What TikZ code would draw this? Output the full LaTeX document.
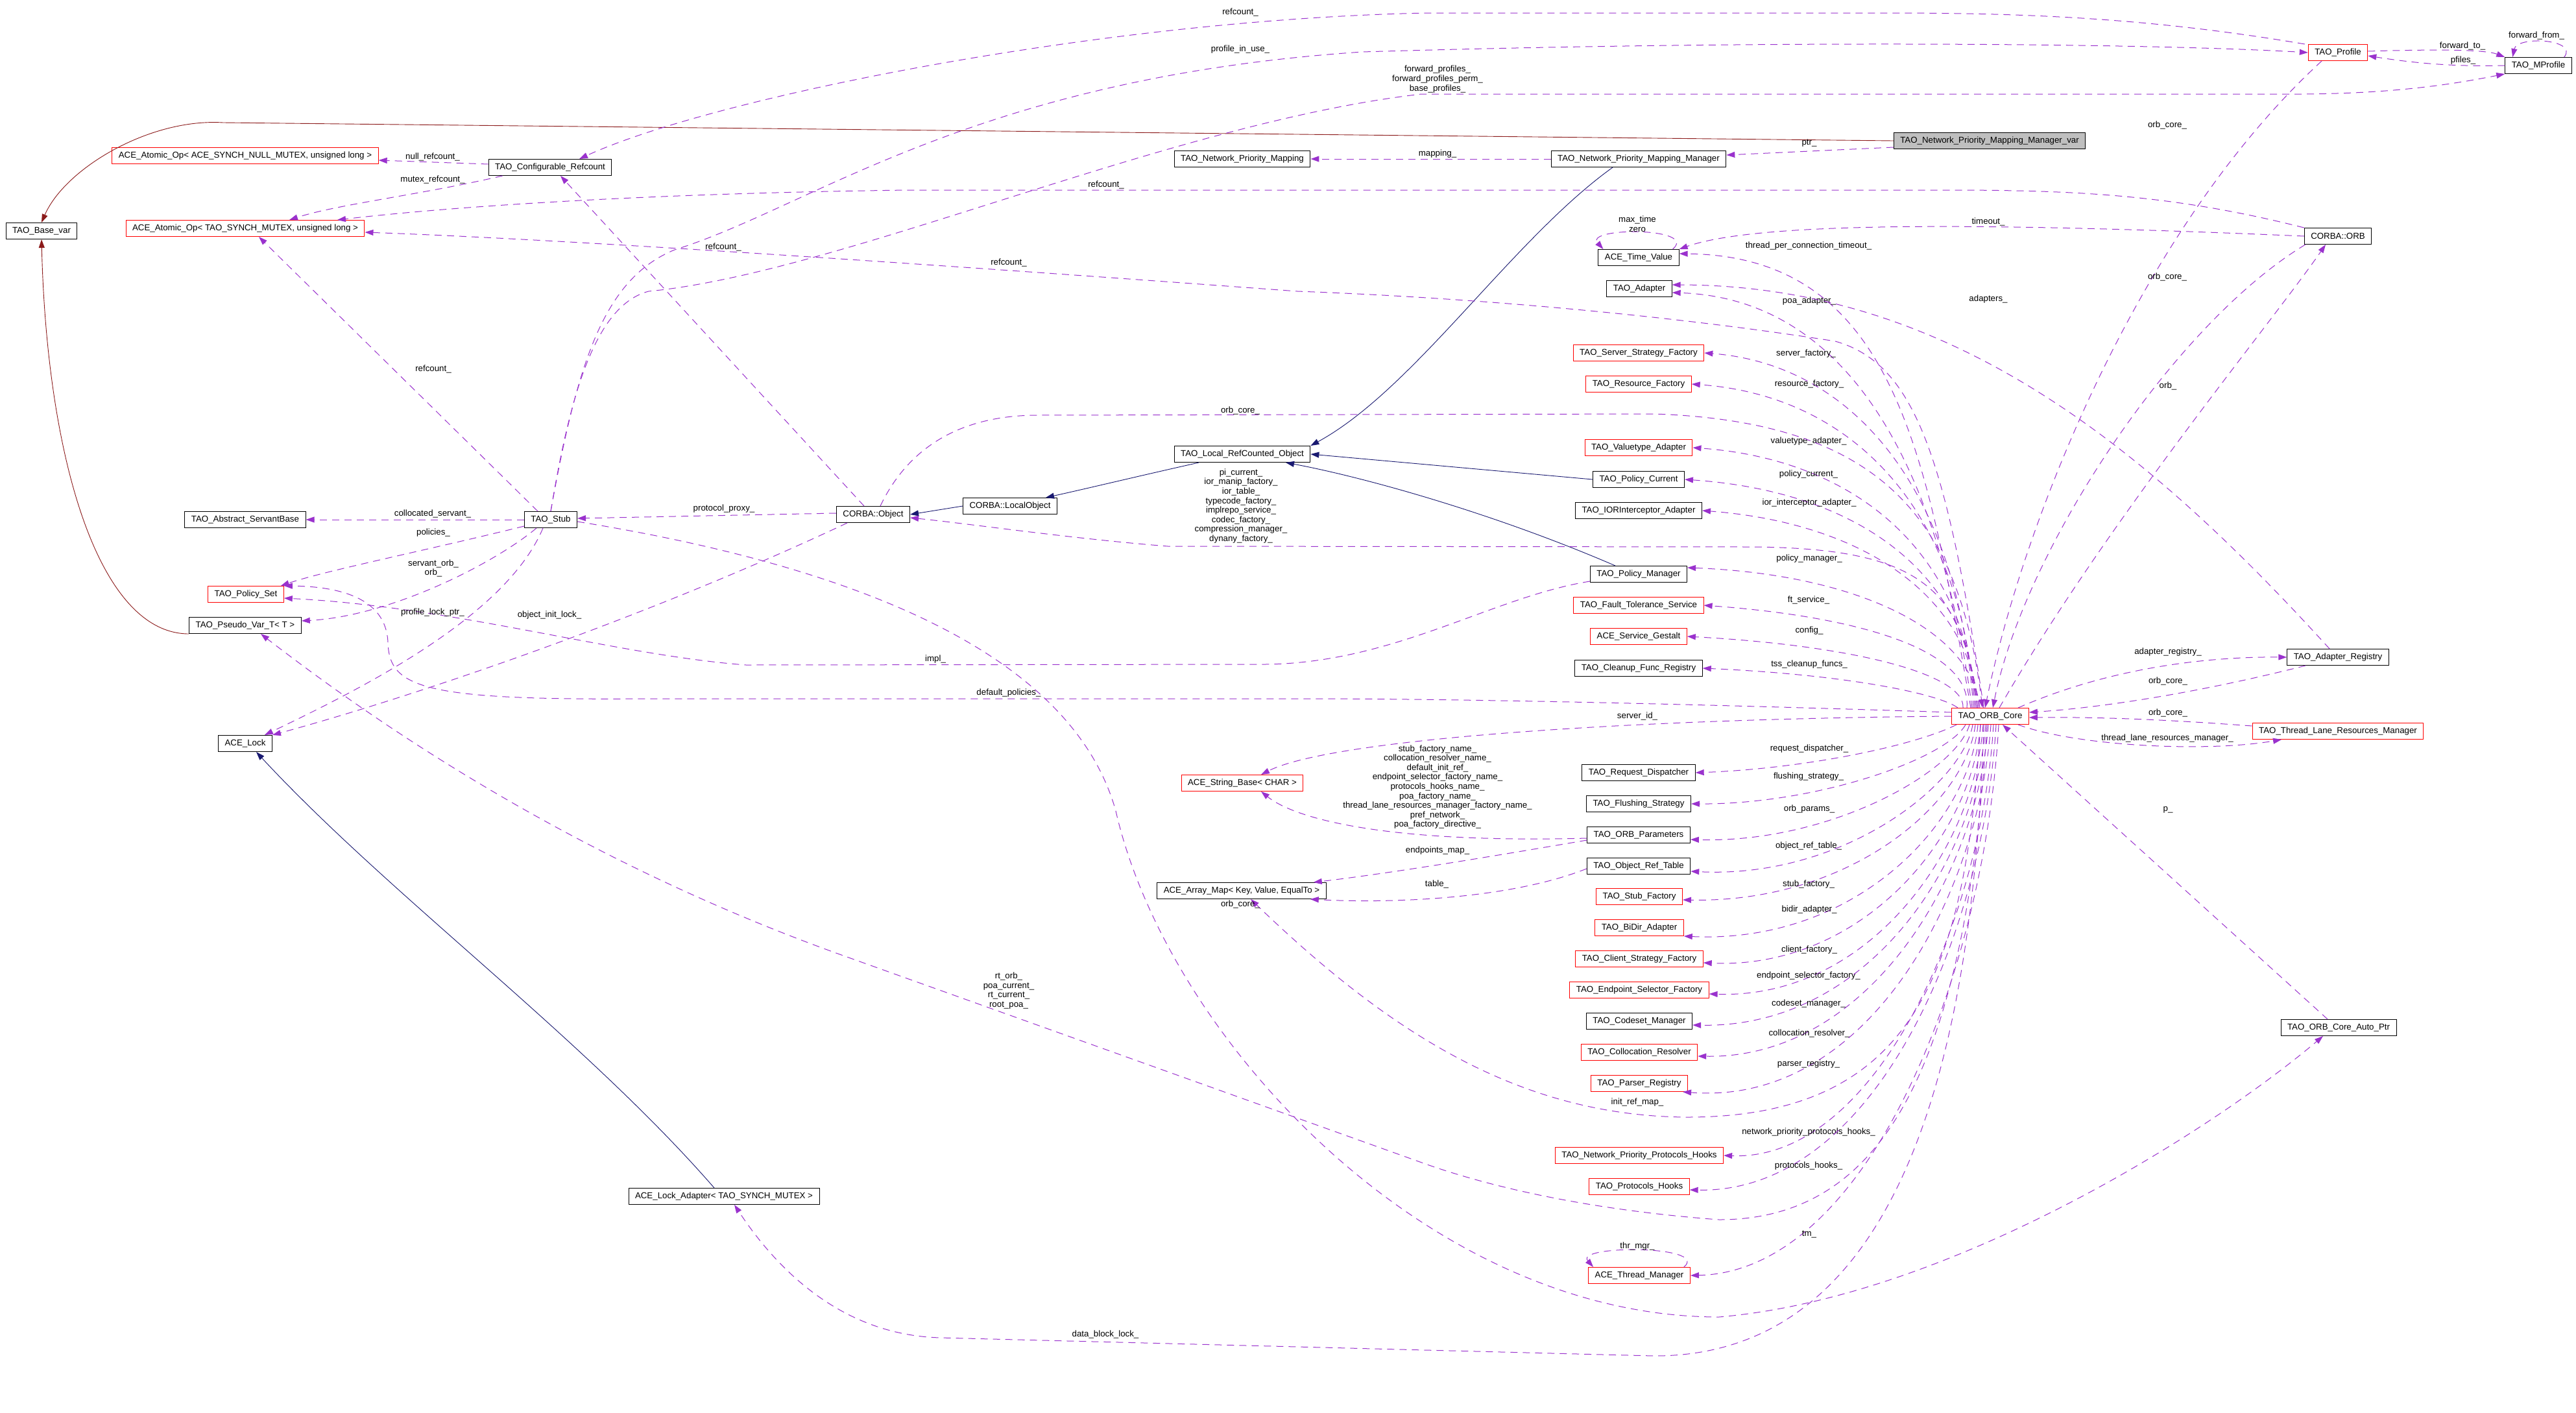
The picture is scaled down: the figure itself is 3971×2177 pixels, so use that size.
\documentclass[tikz,border=0pt]{standalone}
\usepackage{fontspec}
\setmainfont{Liberation Sans}
\usetikzlibrary{arrows.meta}
\definecolor{usecol}{HTML}{9A32CD}
\definecolor{pubcol}{HTML}{191970}
\definecolor{privcol}{HTML}{8B1A1A}
\begin{document}
\begin{tikzpicture}[x=1pt, y=-1pt,
    cls/.style={draw=black, line width=1pt, inner xsep=10pt, inner ysep=0pt, minimum height=25pt, font=\fontsize{13.3}{15}\selectfont},
    redcls/.style={cls, draw=red},
    lbl/.style={inner sep=0pt, align=center, font=\fontsize{13.3}{14.6}\selectfont},
    usedge/.style={draw=usecol, line width=1pt, dash pattern=on 11pt off 8pt, -{Triangle[length=13pt,width=9pt]}},
    pubedge/.style={draw=pubcol, line width=0.9pt, -{Triangle[length=13pt,width=9pt]}},
    privedge/.style={draw=privcol, line width=0.9pt, -{Triangle[length=13pt,width=9pt]}}]
    \useasboundingbox (0,0) rectangle (3971,2177);

    \node[cls] (basevar) at (64,356) {TAO\_Base\_var};
    \node[redcls] (aonull) at (378,240) {ACE\_Atomic\_Op< ACE\_SYNCH\_NULL\_MUTEX, unsigned long >};
    \node[redcls] (aomtx) at (378,352) {ACE\_Atomic\_Op< TAO\_SYNCH\_MUTEX, unsigned long >};
    \node[cls] (asb) at (378,801) {TAO\_Abstract\_ServantBase};
    \node[redcls] (pset) at (379,916) {TAO\_Policy\_Set};
    \node[cls] (pvar) at (378,964) {TAO\_Pseudo\_Var\_T< T >};
    \node[cls] (lock) at (378,1146) {ACE\_Lock};
    \node[cls] (cfgref) at (848,258) {TAO\_Configurable\_Refcount};
    \node[cls] (stub) at (849,801) {TAO\_Stub};
    \node[cls] (lockad) at (1116,1844) {ACE\_Lock\_Adapter< TAO\_SYNCH\_MUTEX >};
    \node[cls] (obj) at (1346,793) {CORBA::Object};
    \node[cls] (lobj) at (1557,780) {CORBA::LocalObject};
    \node[cls] (npm) at (1915,245) {TAO\_Network\_Priority\_Mapping};
    \node[cls] (lrco) at (1915,700) {TAO\_Local\_RefCounted\_Object};
    \node[redcls] (strbase) at (1915,1207) {ACE\_String\_Base< CHAR >};
    \node[cls] (amap) at (1914,1373) {ACE\_Array\_Map< Key, Value, EqualTo >};

    \node[cls] (npmm) at (2526,245) {TAO\_Network\_Priority\_Mapping\_Manager};
    \node[cls] (tval) at (2526,397) {ACE\_Time\_Value};
    \node[cls] (adapter) at (2527,445) {TAO\_Adapter};
    \node[redcls] (ssf) at (2526,544) {TAO\_Server\_Strategy\_Factory};
    \node[redcls] (rfac) at (2526,592) {TAO\_Resource\_Factory};
    \node[redcls] (vta) at (2526,690) {TAO\_Valuetype\_Adapter};
    \node[cls] (pcur) at (2526,739) {TAO\_Policy\_Current};
    \node[cls] (iora) at (2526,787) {TAO\_IORInterceptor\_Adapter};
    \node[cls] (pman) at (2526,885) {TAO\_Policy\_Manager};
    \node[redcls] (fts) at (2526,933) {TAO\_Fault\_Tolerance\_Service};
    \node[redcls] (gestalt) at (2526,981) {ACE\_Service\_Gestalt};
    \node[cls] (cleanup) at (2526,1030) {TAO\_Cleanup\_Func\_Registry};
    \node[cls] (rdisp) at (2526,1191) {TAO\_Request\_Dispatcher};
    \node[cls] (flush) at (2526,1239) {TAO\_Flushing\_Strategy};
    \node[cls] (oparams) at (2526,1287) {TAO\_ORB\_Parameters};
    \node[cls] (ortable) at (2526,1335) {TAO\_Object\_Ref\_Table};
    \node[redcls] (stubf) at (2527,1382) {TAO\_Stub\_Factory};
    \node[redcls] (bidir) at (2527,1430) {TAO\_BiDir\_Adapter};
    \node[redcls] (csf) at (2527,1478) {TAO\_Client\_Strategy\_Factory};
    \node[redcls] (esf) at (2527,1526) {TAO\_Endpoint\_Selector\_Factory};
    \node[cls] (codeset) at (2527,1574) {TAO\_Codeset\_Manager};
    \node[redcls] (colres) at (2527,1622) {TAO\_Collocation\_Resolver};
    \node[redcls] (parser) at (2527,1670) {TAO\_Parser\_Registry};
    \node[redcls] (npph) at (2527,1781) {TAO\_Network\_Priority\_Protocols\_Hooks};
    \node[redcls] (phooks) at (2527,1829) {TAO\_Protocols\_Hooks};
    \node[redcls] (thrmgr) at (2527,1966) {ACE\_Thread\_Manager};

    \node[cls, fill=gray!50] (var) at (3067,217) {TAO\_Network\_Priority\_Mapping\_Manager\_var};
    \node[redcls] (core) at (3068,1104) {TAO\_ORB\_Core};
    \node[redcls] (profile) at (3604,81) {TAO\_Profile};
    \node[cls] (orb) at (3604,364) {CORBA::ORB};
    \node[cls] (areg) at (3604,1013) {TAO\_Adapter\_Registry};
    \node[redcls] (tlrm) at (3604,1127) {TAO\_Thread\_Lane\_Resources\_Manager};
    \node[cls] (autoptr) at (3605,1584) {TAO\_ORB\_Core\_Auto\_Ptr};
    \node[cls] (mprofile) at (3913,101) {TAO\_MProfile};

    \draw[privedge] (var.west) -- (344,189) .. controls (230,182) and (100,260) .. (basevar.north);
    \draw[privedge] (pvar.south west) .. controls (150,977) and (72,700) .. (basevar.south);
    \draw[pubedge] ([xshift=-40pt]npmm.south) .. controls (2330,370) and (2180,600) .. (lrco.north east);
    \draw[pubedge] (pcur.west) -- (lrco.east);
    \draw[pubedge] ([xshift=-36pt]pman.north) .. controls (2300,790) and (2100,735) .. ([xshift=67pt]lrco.south);
    \draw[pubedge] ([xshift=-67pt]lrco.south) .. controls (1750,735) and (1680,752) .. ([xshift=55pt]lobj.north);
    \draw[pubedge] (lobj.west) -- (obj.east);
    \draw[pubedge] ([xshift=-15pt]lockad.north) .. controls (900,1600) and (600,1380) .. ([xshift=17pt]lock.south);

    \draw[usedge] ([yshift=-10pt]var.west) -- ([yshift=6pt]npmm.east) node[lbl] (l-ptr) at (2789,221) {ptr\_};
    \draw[usedge] (npmm.west) -- (npm.east) node[lbl] (l-mapping) at (2216,237) {mapping\_};
    \draw[usedge] ([yshift=5pt]cfgref.west) -- ([yshift=-7pt]aonull.east) node[lbl] (l-nullrc) at (667,242) {null\_refcount\_};
    \draw[usedge] ([xshift=22pt]cfgref.south west) .. controls (650,300) and (520,315) .. ([xshift=68pt]aomtx.north) node[lbl] (l-mtxrc) at (667,277) {mutex\_refcount\_};
    \draw[usedge] ([xshift=-5pt]profile.north west) .. controls (3300,25) and (3100,20) .. (2900,20) -- (2200,20) .. controls (1700,30) and (1100,150) .. ([xshift=45pt]cfgref.north) node[lbl] (l-rc0) at (1912,19) {refcount\_};
    \draw[usedge] (stub.north) .. controls (890,560) and (930,430) .. (1040,385) .. controls (1250,320) and (1500,120) .. (2100,80) .. controls (2700,62) and (3300,66) .. (profile.west) node[lbl] (l-piu) at (1912,76) {profile\_in\_use\_};
    \draw[usedge] (stub.north) .. controls (880,600) and (920,470) .. (1000,449) .. controls (1300,420) and (1800,190) .. (2191,145) -- (3550,145) .. controls (3700,144) and (3790,128) .. (mprofile.south west) node[lbl] (l-fwd) at (2216,122) {forward\_profiles\_\\forward\_profiles\_perm\_\\base\_profiles\_};
    \draw[usedge] ([xshift=-14pt]obj.north) -- ([xshift=16pt]cfgref.south) node[lbl] (l-rc1) at (1115,381) {refcount\_};
    \draw[usedge] ([xshift=-20pt]stub.north) -- ([xshift=21pt]aomtx.south) node[lbl] (l-rc2) at (668,569) {refcount\_};
    \draw[usedge] (orb.north west) .. controls (3350,300) and (3200,293) .. (3000,293) -- (1400,293) .. controls (1000,298) and (700,318) .. ([xshift=142pt]aomtx.north) node[lbl] (l-rc3) at (1705,285) {refcount\_};
    \draw[usedge] ([xshift=-10pt]core.north) .. controls (3000,700) and (2950,560) .. (2829,526) .. controls (2600,490) and (2300,460) .. (2000,449) .. controls (1500,412) and (900,370) .. ([yshift=-6pt]aomtx.east) node[lbl] (l-rc4) at (1555,405) {refcount\_};

    \draw[usedge] ([xshift=-25pt]profile.south) .. controls (3300,350) and (3120,800) .. ([xshift=-8pt]core.north) node[lbl] (l-pcore) at (3341,193) {orb\_core\_};
    \draw[usedge] ([xshift=2pt]orb.south west) .. controls (3350,500) and (3120,850) .. ([xshift=4pt]core.north) node[lbl] (l-ocore) at (3341,427) {orb\_core\_};
    \draw[usedge] ([xshift=14pt]core.north) .. controls (3250,800) and (3500,500) .. ([xshift=-19pt]orb.south) node[lbl] (l-orb) at (3342,595) {orb\_};
    \draw[usedge] ([yshift=2pt]profile.east) .. controls (3750,76) and (3830,76) .. (mprofile.north west) node[lbl] (l-fto) at (3796,71) {forward\_to\_};
    \draw[usedge] (mprofile.west) .. controls (3780,103) and (3720,97) .. ([yshift=-5pt]profile.east) node[lbl] (l-pfiles) at (3797,93) {pfiles\_};
    \draw[usedge] ([xshift=-12pt]mprofile.north east) .. controls (3975,60) and (3880,55) .. ([xshift=12pt]mprofile.north west) node[lbl] (l-ffrom) at (3910,55) {forward\_from\_};

    \draw[usedge] (orb.west) .. controls (3000,340) and (2700,345) .. (tval.north east) node[lbl] (l-timeout) at (3065,342) {timeout\_};
    \draw[usedge] ([xshift=-30pt]core.north) .. controls (2970,700) and (2920,395) .. ([yshift=6pt]tval.east) node[lbl] (l-tpct) at (2788,379) {thread\_per\_connection\_timeout\_};
    \draw[usedge] ([xshift=-10pt]tval.north east) .. controls +(40,-34) and +(-30,-34) .. ([xshift=8pt]tval.north west) node[lbl] (l-maxt) at (2524,345) {max\_time\\zero};
    \draw[usedge] ([xshift=-28pt]core.north) .. controls (2990,720) and (2850,460) .. ([yshift=-6pt]adapter.east) node[lbl] (l-poa) at (2789,464) {poa\_adapter\_};
    \draw[usedge] ([xshift=-13pt]areg.north) .. controls (3300,680) and (3000,440) .. ([yshift=6pt]adapter.east) node[lbl] (l-adapters) at (3065,461) {adapters\_};

    \draw[usedge] ([xshift=-26pt]core.north) .. controls (3020,760) and (2860,562) .. (ssf.east) node[lbl] (l-ssf) at (2784,545) {server\_factory\_};
    \draw[usedge] ([xshift=-24pt]core.north) .. controls (3025,790) and (2860,610) .. (rfac.east) node[lbl] (l-rfac) at (2789,592) {resource\_factory\_};
    \draw[usedge] ([xshift=-22pt]core.north) .. controls (3030,850) and (2860,708) .. (vta.east) node[lbl] (l-vta) at (2788,680) {valuetype\_adapter\_};
    \draw[usedge] ([xshift=-20pt]core.north) .. controls (3035,880) and (2860,757) .. (pcur.east) node[lbl] (l-pcur) at (2788,731) {policy\_current\_};
    \draw[usedge] ([xshift=-18pt]core.north) .. controls (3035,910) and (2860,805) .. (iora.east) node[lbl] (l-iora) at (2789,775) {ior\_interceptor\_adapter\_};
    \draw[usedge] ([xshift=-16pt]core.north) .. controls (3040,970) and (2860,885) .. ([yshift=10pt]pman.east) node[lbl] (l-pman) at (2789,861) {policy\_manager\_};
    \draw[usedge] ([xshift=-36pt]core.north) .. controls (3040,1000) and (2860,950) .. (fts.east) node[lbl] (l-fts) at (2788,925) {ft\_service\_};
    \draw[usedge] ([xshift=-42pt]core.north) .. controls (3030,1040) and (2860,995) .. (gestalt.east) node[lbl] (l-gestalt) at (2789,972) {config\_};
    \draw[usedge] ([xshift=-50pt]core.north) .. controls (2990,1070) and (2850,1040) .. (cleanup.east) node[lbl] (l-cleanup) at (2789,1024) {tss\_cleanup\_funcs\_};

    \draw[usedge] ([xshift=8pt]core.south west) .. controls (2950,1150) and (2780,1185) .. (rdisp.east) node[lbl] (l-rdisp) at (2789,1154) {request\_dispatcher\_};
    \draw[usedge] ([xshift=-38pt]core.south) .. controls (3000,1170) and (2800,1240) .. (flush.east) node[lbl] (l-flush) at (2788,1197) {flushing\_strategy\_};
    \draw[usedge] ([xshift=-32pt]core.south) .. controls (3015,1190) and (2820,1300) .. ([yshift=-7pt]oparams.east) node[lbl] (l-oparams) at (2789,1247) {orb\_params\_};
    \draw[usedge] ([xshift=-27pt]core.south) .. controls (3025,1210) and (2840,1355) .. ([yshift=-8pt]ortable.east) node[lbl] (l-ortable) at (2788,1304) {object\_ref\_table\_};
    \draw[usedge] ([xshift=-23pt]core.south) .. controls (3030,1240) and (2850,1392) .. ([yshift=-5pt]stubf.east) node[lbl] (l-stubf) at (2788,1363) {stub\_factory\_};
    \draw[usedge] ([xshift=-19pt]core.south) .. controls (3035,1270) and (2860,1455) .. (bidir.south east) node[lbl] (l-bidir) at (2789,1402) {bidir\_adapter\_};
    \draw[usedge] ([xshift=-15pt]core.south) .. controls (3040,1290) and (2870,1495) .. ([yshift=-6pt]csf.east) node[lbl] (l-csf) at (2789,1464) {client\_factory\_};
    \draw[usedge] ([xshift=-11pt]core.south) .. controls (3043,1310) and (2880,1540) .. ([yshift=-6pt]esf.east) node[lbl] (l-esf) at (2788,1504) {endpoint\_selector\_factory\_};
    \draw[usedge] ([xshift=-7pt]core.south) .. controls (3046,1330) and (2880,1585) .. ([yshift=-6pt]codeset.east) node[lbl] (l-codeset) at (2788,1547) {codeset\_manager\_};
    \draw[usedge] ([xshift=-3pt]core.south) .. controls (3048,1350) and (2880,1632) .. ([yshift=-6pt]colres.east) node[lbl] (l-colres) at (2789,1593) {collocation\_resolver\_};
    \draw[usedge] ([xshift=1pt]core.south) .. controls (3050,1380) and (2880,1705) .. ([xshift=-8pt]parser.south east) node[lbl] (l-parser) at (2788,1640) {parser\_registry\_};
    \draw[usedge] ([xshift=5pt]core.south) .. controls (3055,1420) and (2890,1790) .. (npph.east) node[lbl] (l-npph) at (2788,1745) {network\_priority\_protocols\_hooks\_};
    \draw[usedge] ([xshift=9pt]core.south) .. controls (3058,1440) and (2890,1840) .. ([yshift=-5pt]phooks.east) node[lbl] (l-phooks) at (2788,1797) {protocols\_hooks\_};
    \draw[usedge] ([xshift=13pt]core.south) .. controls (3060,1500) and (2880,1960) .. (thrmgr.east) node[lbl] (l-tm) at (2789,1902) {tm\_};
    \draw[usedge] ([xshift=-10pt]thrmgr.north east) .. controls +(40,-34) and +(-30,-34) .. ([xshift=8pt]thrmgr.north west) node[lbl] (l-thr) at (2524,1921) {thr\_mgr\_};

    \draw[usedge] ([xshift=-15pt]core.south) .. controls (3030,1500) and (2950,1722) .. (2600,1722) .. controls (2350,1720) and (2150,1600) .. ([xshift=14pt]amap.south) node[lbl] (l-initref) at (2524,1699) {init\_ref\_map\_};
    \draw[usedge] ([xshift=-5pt]core.south) .. controls (3030,1650) and (2900,1880) .. (2650,1880) .. controls (2450,1865) and (2300,1830) .. (2200,1795) -- (1300,1473) .. controls (900,1330) and (600,1130) .. ([xshift=24pt]pvar.south) node[lbl] (l-rtorb) at (1555,1527) {rt\_orb\_\\poa\_current\_\\rt\_current\_\\root\_poa\_};
    \draw[usedge] ([xshift=-10pt]core.south) .. controls (3040,1700) and (2900,2090) .. (2550,2090) -- (1450,2062) .. controls (1300,2058) and (1200,1960) .. ([xshift=16pt]lockad.south) node[lbl] (l-dbl) at (1704,2057) {data\_block\_lock\_};
    \draw[usedge] ([yshift=-3pt]stub.east) .. controls (1300,870) and (1650,1000) .. (1720,1250) .. controls (1800,1600) and (2200,2030) .. (2650,2030) .. controls (3000,2000) and (3400,1750) .. ([xshift=-24pt]autoptr.south) node[lbl] (l-score) at (1912,1394) {orb\_core\_};
    \draw[usedge] ([xshift=-17pt]autoptr.north) -- ([xshift=19pt]core.south) node[lbl] (l-p) at (3342,1248) {p\_};

    \draw[usedge] ([xshift=43pt]core.north) .. controls (3250,1030) and (3400,1012) .. (areg.west) node[lbl] (l-areg) at (3342,1005) {adapter\_registry\_};
    \draw[usedge] ([xshift=-50pt]areg.south) .. controls (3400,1065) and (3250,1090) .. ([yshift=6pt]core.east) node[lbl] (l-acore) at (3342,1050) {orb\_core\_};
    \draw[usedge] ([yshift=8pt]tlrm.west) .. controls (3350,1110) and (3250,1105) .. ([yshift=-2pt]core.east) node[lbl] (l-tcore) at (3342,1099) {orb\_core\_};
    \draw[usedge] ([xshift=43pt]core.south) .. controls (3200,1150) and (3400,1160) .. ([xshift=-87pt]tlrm.south) node[lbl] (l-tlrm) at (3341,1138) {thread\_lane\_resources\_manager\_};

    \draw[usedge] ([xshift=11pt]obj.north) .. controls (1400,690) and (1480,640) .. (1600,640) -- (2550,638) .. controls (2900,650) and (3020,800) .. ([xshift=-12pt]core.north) node[lbl] (l-objcore) at (1912,633) {orb\_core\_};
    \draw[usedge] ([xshift=-20pt]core.north) .. controls (3030,900) and (2950,845) .. (2700,843) -- (1800,842) .. controls (1650,830) and (1500,808) .. ([yshift=-5pt]obj.east) node[lbl] (l-picur) at (1913,780) {pi\_current\_\\ior\_manip\_factory\_\\ior\_table\_\\typecode\_factory\_\\implrepo\_service\_\\codec\_factory\_\\compression\_manager\_\\dynany\_factory\_};
    \draw[usedge] (core.west) .. controls (2500,1108) and (2050,1140) .. ([xshift=29pt]strbase.north) node[lbl] (l-sid) at (2524,1104) {server\_id\_};
    \draw[usedge] ([yshift=-5pt]oparams.west) .. controls (2150,1300) and (2000,1265) .. ([xshift=29pt]strbase.south) node[lbl] (l-names) at (2216,1213) {stub\_factory\_name\_\\collocation\_resolver\_name\_\\default\_init\_ref\_\\endpoint\_selector\_factory\_name\_\\protocols\_hooks\_name\_\\poa\_factory\_name\_\\thread\_lane\_resources\_manager\_factory\_name\_\\pref\_network\_\\poa\_factory\_directive\_};
    \draw[usedge] ([yshift=-8pt]oparams.west) .. controls (2300,1320) and (2150,1345) .. ([xshift=-20pt]amap.north east) node[lbl] (l-emap) at (2216,1311) {endpoints\_map\_};
    \draw[usedge] ([yshift=-4pt]ortable.west) .. controls (2330,1385) and (2150,1393) .. ([xshift=-25pt]amap.south east) node[lbl] (l-table) at (2215,1363) {table\_};

    \draw[usedge] ([yshift=6pt]core.west) .. controls (2700,1088) and (2300,1077) .. (2000,1077) -- (1000,1077) .. controls (650,1080) and (600,1060) .. (598,990) .. controls (595,920) and (520,904) .. (pset.north east) node[lbl] (l-defpol) at (1555,1068) {default\_policies\_};
    \draw[usedge] ([yshift=-11pt]pman.west) .. controls (2300,920) and (2150,1022) .. (1950,1024) -- (1150,1025) .. controls (950,1010) and (700,935) .. ([yshift=-6pt]pset.east) node[lbl] (l-impl) at (1442,1016) {impl\_};

    \draw[usedge] (stub.west) -- (asb.east) node[lbl] (l-coll) at (667,792) {collocated\_servant\_};
    \draw[usedge] ([yshift=3pt]stub.south west) .. controls (650,850) and (500,880) .. ([xshift=-5pt]pset.north east) node[lbl] (l-pol) at (668,821) {policies\_};
    \draw[usedge] ([xshift=-22pt]stub.south) .. controls (760,870) and (600,950) .. ([yshift=7pt]pvar.east) node[lbl] (l-sorb) at (668,876) {servant\_orb\_\\orb\_};
    \draw[usedge] ([xshift=-12pt]stub.south) .. controls (780,950) and (560,1060) .. ([xshift=-12pt]lock.north east) node[lbl] (l-plock) at (667,944) {profile\_lock\_ptr\_};
    \draw[usedge] ([xshift=-40pt]obj.south) .. controls (1000,950) and (650,1070) .. (lock.north east) node[lbl] (l-oil) at (847,948) {object\_init\_lock\_};
    \draw[usedge] ([yshift=2pt]obj.west) -- ([yshift=2pt]stub.east) node[lbl] (l-pproxy) at (1116,784) {protocol\_proxy\_};
  \end{tikzpicture}
\end{document}
